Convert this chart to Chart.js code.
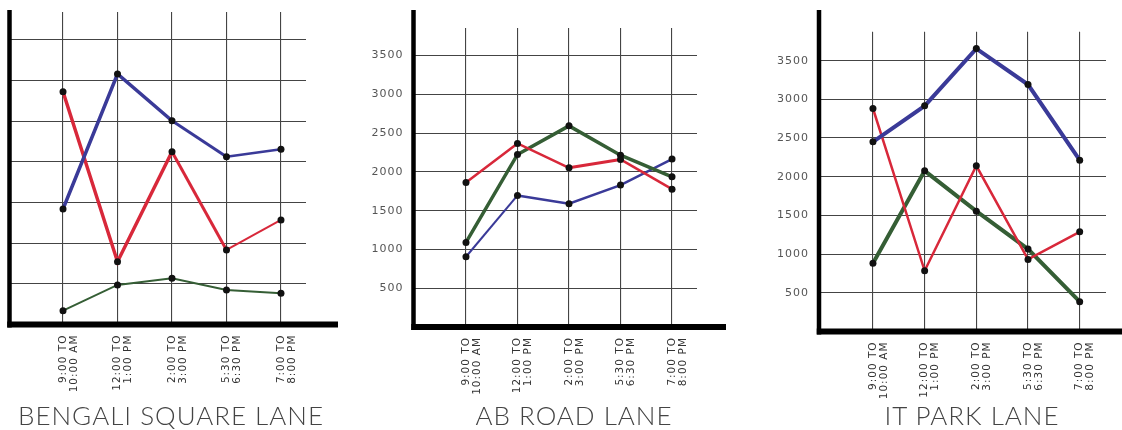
<!DOCTYPE html>
<html>
<head>
<meta charset="utf-8">
<script src="https://cdn.jsdelivr.net/npm/chart.js@4.4.1/dist/chart.umd.min.js"></script>
<style>
  html, body { margin: 0; padding: 0; background: #fff; }
  body { width: 1122px; height: 430px; position: relative; overflow: hidden; }
  .panel { position: absolute; top: 0; height: 430px; }
  .title {
    position: absolute; top: 400px; width: 374px; text-align: center;
    font-family: Lato, "DejaVu Sans", sans-serif; font-weight: 300;
    font-size: 26px; line-height: 30px; color: #444; letter-spacing: 1px;
  }
</style>
</head>
<body>
<div class="panel" style="left:0px; width:374px"><canvas id="c1" width="374" height="430"></canvas></div>
<div class="panel" style="left:354px; width:394px"><canvas id="c2" width="394" height="430"></canvas></div>
<div class="panel" style="left:748px; width:374px"><canvas id="c3" width="374" height="430"></canvas></div>
<div class="title" style="left:-16px">BENGALI SQUARE LANE</div>
<div class="title" style="left:387px">AB ROAD LANE</div>
<div class="title" style="left:785px">IT PARK LANE</div>
<script>
// time slots on the x axis (two lines each)
const timeSlots = [
    ['9:00 TO', '10:00 AM'],
    ['12:00 TO', '1:00 PM'],
    ['2:00 TO', '3:00 PM'],
    ['5:30 TO', '6:30 PM'],
    ['7:00 TO', '8:00 PM']
];
const yTicks = [500, 1000, 1500, 2000, 2500, 3000, 3500];

// Bengali Square lane
const bengaliBlue = [1420, 3080, 2505, 2063, 2154];
const bengaliRed = [2862, 772, 2124, 916, 1285];
const bengaliGreen = [170, 486, 568, 424, 384];

// AB Road lane
const abRoadRed = [1865, 2367, 2053, 2161, 1778];
const abRoadGreen = [1091, 2225, 2594, 2216, 1937];
const abRoadBlue = [906, 1697, 1589, 1830, 2165];

// IT Park lane
const itParkBlue = [2451, 2916, 3657, 3192, 2214];
const itParkRed = [2882, 784, 2141, 931, 1288];
const itParkGreen = [880, 2076, 1555, 1064, 384];

const BLUE = '#3a3a98';
const RED = '#d8283a';
const GREEN = '#355e35';
const GRID = '#444';
const FONT = '"DejaVu Sans", sans-serif';

// wide lettering like the original tick labels
const spacedText = {
    id: 'spacedText',
    beforeUpdate(chart) { chart.ctx.letterSpacing = '1px'; },
    beforeDraw(chart) { chart.ctx.letterSpacing = '1px'; }
};

// thick hand-drawn looking axes, a bit longer than the grid
const thickAxes = {
    id: 'thickAxes',
    afterDraw(chart, args, opts) {
        const { ctx, chartArea } = chart;
        ctx.save();
        ctx.strokeStyle = '#000';
        ctx.lineCap = 'butt';
        ctx.lineWidth = opts.yWidth;
        ctx.beginPath();
        ctx.moveTo(chartArea.left, opts.top);
        ctx.lineTo(chartArea.left, chartArea.bottom + opts.xWidth / 2);
        ctx.stroke();
        ctx.lineWidth = opts.xWidth;
        ctx.beginPath();
        ctx.moveTo(chartArea.left - opts.yWidth / 2, chartArea.bottom);
        ctx.lineTo(opts.right, chartArea.bottom);
        ctx.stroke();
        ctx.restore();
    }
};

function series(values, color, widths) {
    return {
        data: values.map((v, i) => ({ x: i, y: v })),
        borderColor: color,
        borderWidth: widths[0],
        segment: { borderWidth: c => widths[c.p0DataIndex] },
        pointRadius: 3.5,
        pointBackgroundColor: '#111',
        pointBorderColor: '#111',
        pointBorderWidth: 0,
        tension: 0
    };
}

function makePanel(id, p, datasets) {
    return new Chart(document.getElementById(id), {
        type: 'line',
        data: { datasets: datasets },
        plugins: [spacedText, thickAxes],
        options: {
            responsive: false,
            animation: false,
            events: [],
            layout: { padding: { left: 0, top: p.top, right: p.right, bottom: 0 } },
            plugins: {
                legend: { display: false },
                tooltip: { enabled: false },
                thickAxes: { top: p.axisTop, right: p.axisRight, yWidth: 4.5, xWidth: 6 }
            },
            scales: {
                x: {
                    type: 'linear',
                    min: p.xMin,
                    max: p.xMax,
                    afterBuildTicks: axis => { axis.ticks = timeSlots.map((_, i) => ({ value: i })); },
                    afterFit: s => { s.height = p.xHeight; },
                    border: { display: false },
                    grid: { color: GRID, lineWidth: 1.1, drawTicks: false },
                    ticks: {
                        autoSkip: false,
                        minRotation: 90,
                        maxRotation: 90,
                        padding: 10,
                        color: '#333',
                        font: { family: FONT, size: 10.5, lineHeight: 1.05 },
                        callback: v => timeSlots[v]
                    }
                },
                y: {
                    min: 0,
                    max: p.yMax,
                    afterBuildTicks: axis => { axis.ticks = yTicks.map(v => ({ value: v })); },
                    afterFit: s => { s.width = p.yWidth; },
                    border: { display: false },
                    grid: { color: GRID, lineWidth: 1.1, drawTicks: false },
                    ticks: {
                        display: p.showY,
                        padding: 10,
                        color: '#555',
                        font: { family: FONT, size: 11 },
                        callback: v => String(v)
                    }
                }
            }
        }
    });
}

makePanel('c1', {
    top: 12, right: 68, xHeight: 105.5, yWidth: 9.5,
    xMin: -0.982, xMax: 4.459, yMax: 3842, showY: false,
    axisTop: 10, axisRight: 338
}, [
    series(bengaliBlue, BLUE, [3.5, 3.5, 3, 2.5]),
    series(bengaliRed, RED, [3.5, 3.5, 3, 2]),
    series(bengaliGreen, GREEN, [2, 2, 2, 2])
]);

makePanel('c2', {
    top: 28, right: 51, xHeight: 103, yWidth: 59.5,
    xMin: -1.019, xMax: 4.485, yMax: 3856, showY: true,
    axisTop: 10, axisRight: 372
}, [
    series(abRoadRed, RED, [2.5, 2.5, 3, 2.5]),
    series(abRoadGreen, GREEN, [3.5, 3.5, 3.5, 3.5]),
    series(abRoadBlue, BLUE, [2, 2.5, 2.5, 2.5])
]);

makePanel('c3', {
    top: 31.7, right: 16, xHeight: 98.6, yWidth: 71,
    xMin: -1.044, xMax: 4.509, yMax: 3875, showY: true,
    axisTop: 10, axisRight: 374
}, [
    series(itParkBlue, BLUE, [4, 4, 4, 4]),
    series(itParkRed, RED, [2.5, 2.5, 2.5, 2.5]),
    series(itParkGreen, GREEN, [4, 4, 4, 4])
]);
</script>
</body>
</html>
